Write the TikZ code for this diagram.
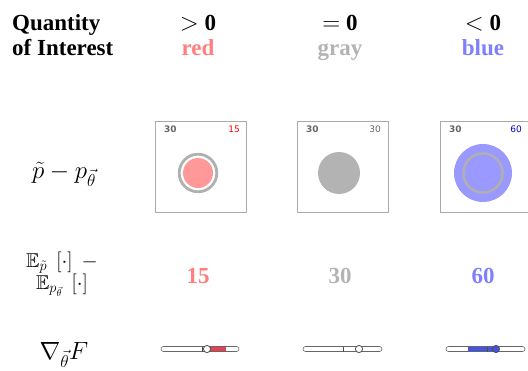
\documentclass[tikz,border=0pt]{standalone}
\usepackage{amsmath}
\usepackage{amssymb}
\usepackage{fontspec}
\setmainfont{Liberation Serif}
\newfontfamily\boxfont{DejaVu Sans}
\usepackage{tikz}
\definecolor{qred}{HTML}{FF7F7F}
\definecolor{qgray}{HTML}{B3B3B3}
\definecolor{qblue}{HTML}{7F7FFF}
\definecolor{fillred}{HTML}{FF9999}
\definecolor{fillblue}{HTML}{9999FF}
\definecolor{ringgray}{HTML}{B0B0B0}
\definecolor{barred}{HTML}{E8404F}
\definecolor{barblue}{HTML}{4452E8}
\definecolor{framegray}{HTML}{AAAAAA}
\tikzset{
  head/.style={font=\fontsize{23}{25}\selectfont\bfseries, inner sep=0pt},
  rowlabel/.style={font=\fontsize{23}{23}\selectfont, inner sep=0pt, align=center},
  smalllabel/.style={font=\fontsize{20}{20}\selectfont, inner sep=0pt, align=center},
  panel/.style={draw=framegray, line width=0.9pt, fill=white, minimum width=91pt, minimum height=91pt, inner sep=0pt},
  corner/.style={font=\boxfont\fontsize{9}{9}\selectfont, inner sep=0pt},
  track/.style={draw=black!60, line width=0.6pt, fill=white, rounded corners=2.5pt},
  knob/.style={draw=black!70, line width=0.8pt}
}
\begin{document}
\begin{tikzpicture}[x=1pt, y=-1pt]
\useasboundingbox (0,0) rectangle (528,370);
% header row
\node (qoi) at (12,30) [head, anchor=base west] {Quantity};
\node (qoi2) at (12,55) [head, anchor=base west] {of Interest};
\node (gt) at (198,30) [head, anchor=base] {$>$ 0};
\node (eq) at (340,30) [head, anchor=base] {$=$ 0};
\node (lt) at (483,30) [head, anchor=base] {$<$ 0};
\node (red) at (198,55) [head, anchor=base, text=qred] {red};
\node (gray) at (340,55) [head, anchor=base, text=qgray] {gray};
\node (blue) at (483,55) [head, anchor=base, text=qblue] {blue};
% row labels
\node (diff) at (64,178) [rowlabel, anchor=base] {$\tilde{p}-p_{\vec{\theta}}$};
\node (expect) at (62,267) [smalllabel, anchor=base] {$\mathbb{E}_{\tilde{p}}\;\left[\cdot\right]\;-$};
\node (expect2) at (62,289) [smalllabel, anchor=base] {$\mathbb{E}_{p_{\vec{\theta}}}\;\left[\cdot\right]$};
\node (grad) at (64,359) [rowlabel, anchor=base] {$\nabla_{\vec{\theta}}F$};
% panels
\node (boxA) at (201,167) [panel] {};
\node (boxB) at (343,167) [panel] {};
\node (boxC) at (486,167) [panel] {};
\node (tlA) at (164,132) [corner, anchor=base west, text=black!60] {\bfseries 30};
\node (trA) at (240,132) [corner, anchor=base east, text=red] {15};
\node (tlB) at (306,132) [corner, anchor=base west, text=black!60] {\bfseries 30};
\node (trB) at (381,132) [corner, anchor=base east, text=black!60] {30};
\node (tlC) at (449,132) [corner, anchor=base west, text=black!60] {\bfseries 30};
\node (trC) at (522,132) [corner, anchor=base east, text=blue!80!black] {60};
\fill[fillred] (198,173) circle (15);
\draw[ringgray, line width=2.8pt] (198,173) circle (18.8);
\fill[qgray] (339,173) circle (21);
\fill[fillblue] (483,173) circle (29);
\draw[ringgray, line width=2.5pt] (483,173) circle (19.6);
% totals
\node (numA) at (198,283) [head, anchor=base, text=qred] {15};
\node (numB) at (340,283) [head, anchor=base, text=qgray] {30};
\node (numC) at (483,283) [head, anchor=base, text=qblue] {60};
% sliders
\draw[track] (161,346.5) rectangle (239,351.5);
\fill[barred] (209,347) rectangle (226,351);
\draw[black!70, line width=0.6pt] (202,346.5) -- (202,351.5);
\draw[knob, fill=white] (207,349) circle (3.6);
\draw[track] (303,346.5) rectangle (382,351.5);
\draw[black!70, line width=0.6pt] (343,346.5) -- (343,351.5);
\draw[knob, fill=white] (359,349) circle (3.6);
\draw[track] (446,346.5) rectangle (525,351.5);
\fill[barblue] (468,347) rectangle (496,351);
\draw[black!70, line width=0.6pt] (487,346.5) -- (487,351.5);
\draw[knob, fill=barblue] (496,349) circle (3.6);
\end{tikzpicture}
\end{document}
